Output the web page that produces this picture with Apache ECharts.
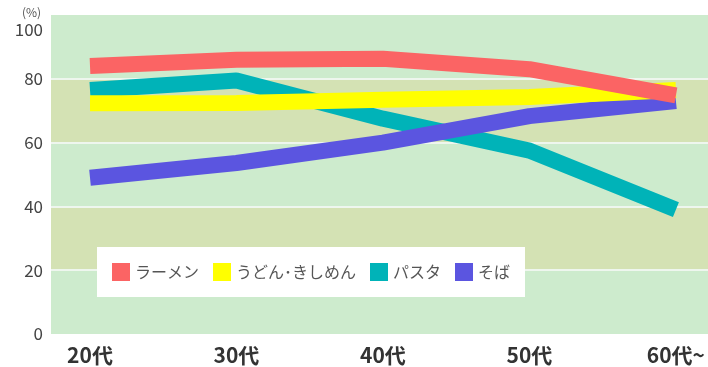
<!DOCTYPE html>
<html>
<head>
<meta charset="UTF-8"/>
<title></title>
<script src="https://cdn.jsdelivr.net/npm/echarts@6/dist/echarts.min.js" type="text/javascript"></script>
<style>
html,body{margin:0;padding:0;background:#fff;}
#placeholder{width:708px;height:367px;}
</style>
</head>
<body>
<div id="placeholder"></div>
<script type="text/javascript">
// 年代
var ages = ['20代', '30代', '40代', '50代', '60代~'];
// 各麺の値 (%)
var ramen = [84, 86, 86.3, 83, 74.8];
var udon = [72.3, 72.4, 73.4, 74.3, 76.5];
var pasta = [76.5, 79.5, 67.5, 57.5, 39];
var soba = [49, 53.6, 60, 68.3, 73];
var yTicks = [0, 20, 40, 60, 80, 100];

var font = '"Noto Sans CJK JP", "Noto Sans", sans-serif';
var myChart = echarts.init(document.getElementById('placeholder'));

function line(name, data, color) {
    return {
        name: name,
        type: 'line',
        xAxisIndex: 1,
        yAxisIndex: 1,
        data: data,
        symbol: 'none',
        silent: true,
        itemStyle: { color: color },
        lineStyle: { color: color, width: 16, cap: 'butt', join: 'bevel' }
    };
}

var option = {
    animation: false,
    textStyle: { fontFamily: font },
    grid: [
        { left: 51, right: 0, top: 15, bottom: 33 },
        { left: 90, right: 31, top: 15, bottom: 33 }
    ],
    graphic: [{
        type: 'text', left: 22, top: 6,
        style: { text: '(%)', fontSize: 12, fill: '#555', fontFamily: font }
    }],
    legend: {
        data: ['ラーメン', 'うどん･きしめん', 'パスタ', 'そば'],
        left: 97,
        top: 247,
        padding: [16, 15, 16, 15],
        backgroundColor: '#fff',
        itemWidth: 18,
        itemHeight: 18,
        itemGap: 14,
        icon: 'rect',
        selectedMode: false,
        textStyle: { fontSize: 16, color: '#555', fontFamily: font }
    },
    xAxis: [{
        gridIndex: 0, type: 'value', min: 0, max: 1, show: false
    }, {
        gridIndex: 1,
        type: 'category',
        boundaryGap: false,
        data: ages,
        axisLine: { show: false },
        axisTick: { show: false },
        axisLabel: { margin: 11, fontSize: 21, fontWeight: 'bold', color: '#333', fontFamily: font }
    }],
    yAxis: [{
        gridIndex: 0,
        type: 'value',
        min: 0, max: 100, interval: 20,
        axisLine: { show: false },
        axisTick: { show: false },
        axisLabel: {
            margin: 8, fontSize: 17, color: '#444', fontFamily: font,
            formatter: function (v) { return v === 100 ? '{top|' + v + '}' : String(v); },
            rich: { top: { fontSize: 17, color: '#444', fontFamily: font, padding: [30, 0, 0, 0] } }
        },
        splitLine: { show: true, showMinLine: false, showMaxLine: false, lineStyle: { color: '#eef6ee', width: 2 } },
        splitArea: { show: true, areaStyle: { color: ['#cdebcd', '#d4e2b4'] } }
    }, {
        gridIndex: 1,
        type: 'value',
        min: 0, max: 100, interval: 20,
        show: false,
        splitLine: { show: false }
    }],
    series: [
        line('パスタ', pasta, '#00b3b8'),
        line('そば', soba, '#5b55e0'),
        line('うどん･きしめん', udon, '#ffff00'),
        line('ラーメン', ramen, '#fb6464')
    ]
};
myChart.setOption(option, true);
</script>
</body>
</html>
